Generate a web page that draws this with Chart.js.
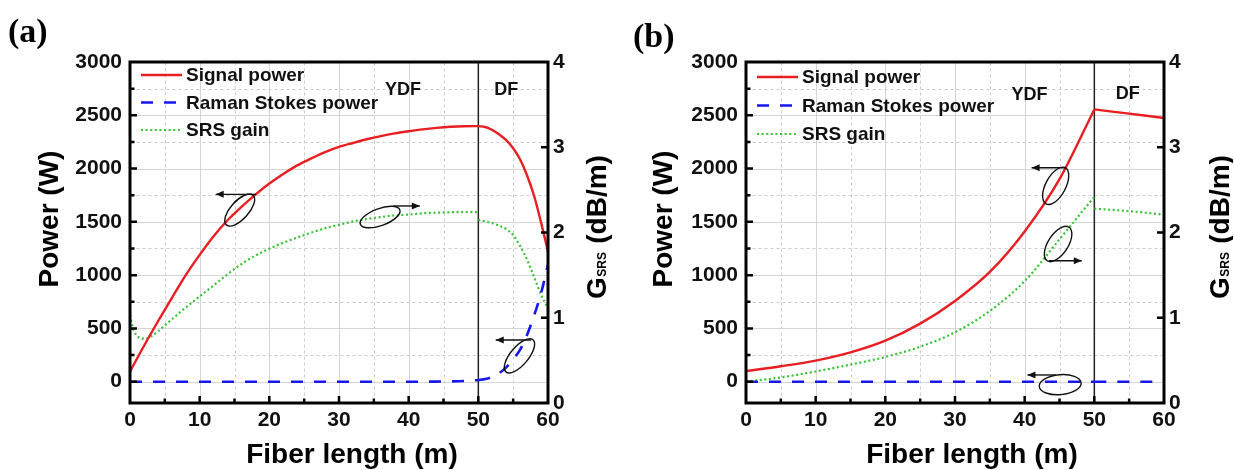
<!DOCTYPE html>
<html>
<head>
<meta charset="utf-8">
<script src="https://cdn.jsdelivr.net/npm/chart.js@4.4.1/dist/chart.umd.min.js"></script>
<style>
  html, body { margin: 0; padding: 0; background: #fff; }
  #wrap { position: relative; width: 1234px; height: 470px; overflow: hidden; }
  canvas { position: absolute; top: 0; }
  #panelA { left: 0; }
  #panelB { left: 616px; }
</style>
</head>
<body>
<div id="wrap">
  <canvas id="panelA" width="617" height="470"></canvas>
  <canvas id="panelB" width="617" height="470"></canvas>
</div>
<script>
// axis labels
const lengthLabels = [0, 10, 20, 30, 40, 50, 60];
const powerLabels = [0, 500, 1000, 1500, 2000, 2500, 3000];
const gainLabels = [0, 1, 2, 3, 4];
const seriesNames = ['Signal power', 'Raman Stokes power', 'SRS gain'];
const junction = 50; // YDF -> DF splice (m)

// ---- panel (a) ----
const ydfLenA = [0,2,4,6,8,10,12,14,16,18,20,22,24,26,28,30,32,34,36,38,40,42,44,46,48,50];
const dfLenA = [50,51,52,53,54,55,56,57,58,59,60];
const signalYdfA = [95,335,565,785,1000,1190,1365,1515,1640,1755,1860,1950,2030,2095,2155,2203,2240,2275,2305,2330,2350,2368,2382,2392,2397,2398];
const signalDfA = [2398,2390,2362,2320,2266,2190,2085,1935,1745,1495,1220];
const ramanYdfA = [0,0,0,0,0,0,0,0,0,0,0,0,0,0,0,0,0,0,0,0,0,0,1,3,7,15];
const ramanDfA = [15,25,45,80,135,210,300,440,620,830,1100];
const gainYdfLenA = [0,0.5,1,1.5,2,2.5,3,4,5,6,8,10,12,14,16,18,20,22,25,28,30,32,35,38,40,42,45,48,50];
const gainYdfA = [1.03,0.86,0.79,0.76,0.755,0.76,0.78,0.84,0.91,0.98,1.12,1.25,1.38,1.51,1.63,1.73,1.81,1.88,1.97,2.05,2.09,2.13,2.17,2.20,2.21,2.225,2.235,2.24,2.24];
const gainDfA = [2.15,2.13,2.11,2.08,2.04,1.97,1.84,1.68,1.48,1.27,1.11];

// ---- panel (b) ----
const ydfLenB = [0,5,10,15,20,25,30,35,40,45,50];
const dfLenB = [50,55,60];
const signalYdfB = [100,145,198,275,385,545,758,1030,1410,1900,2555];
const signalDfB = [2555,2515,2475];
const ramanYdfB = [0,0,0,0,0,0,0,0,0,0,0];
const ramanDfB = [0,0,0];
const gainYdfB = [0.25,0.30,0.37,0.45,0.54,0.66,0.83,1.08,1.43,1.92,2.42];
const gainDfB = [2.28,2.25,2.21];

const FONT = '"Liberation Sans", Arial, Helvetica, sans-serif';
const RED = '#e81e22', BLUE = '#1717ee', GREEN = '#35c435';

// major labels plus a minor tick half way between each pair
function withMinor(labels){
    const out = [];
    labels.forEach((v, i) => {
        if (i) out.push((v + labels[i - 1]) / 2);
        out.push(v);
    });
    return out;
}

const panelA = {
    tag: '(a)', tagX: 8, tagY: 41.5,
    powerTitleX: 50, gainTitleX: 596, fiberTitleX: 352,
    legendTop: 13, legendGap: 27.5,
    ydf: [39.2, 2737], df: [54.0, 2737],
    loops: [
        {cx: 15.75, cp: 1611, rx: 20, ry: 9, rot: -48, ax: [18.1, 12.3], ap: 1758},
        {cx: 35.9, cp: 1545, rx: 21, ry: 8.5, rot: -20, ax: [37.8, 41.6], ap: 1649},
        {cx: 55.9, cp: 243, rx: 21, ry: 9, rot: -50, ax: [57.6, 52.5], ap: 391}
    ]
};
const panelB = {
    tag: '(b)', tagX: 17, tagY: 46.5,
    powerTitleX: 48, gainTitleX: 603, fiberTitleX: 356,
    legendTop: 15, legendGap: 28.5,
    ydf: [40.7, 2690], df: [54.8, 2700],
    loops: [
        {cx: 44.45, cp: 1838, rx: 20.5, ry: 10, rot: -62, ax: [45.9, 41.0], ap: 2008},
        {cx: 44.8, cp: 1292, rx: 20, ry: 10, rot: -57, ax: [43.5, 48.2], ap: 1135},
        {cx: 45.1, cp: -28, rx: 21, ry: 10, rot: -5, ax: [44.5, 40.4], ap: 63}
    ]
};

// YDF part, a gap, then the DF part (keeps the kink at the splice sharp)
function joinSegments(xa, ya, xb, yb){
    const pts = xa.map((v, i) => ({x: v, y: ya[i]}));
    pts.push({x: xb[0], y: null});
    xb.forEach((v, i) => pts.push({x: v, y: yb[i]}));
    return pts;
}

function gridLine(ctx, major, x1, y1, x2, y2){
    ctx.strokeStyle = major ? '#d5d5d5' : '#cdcdcd';
    ctx.setLineDash(major ? [] : [3, 3]);
    ctx.beginPath();
    ctx.moveTo(Math.round(x1) + 0.5, Math.round(y1) + 0.5);
    ctx.lineTo(Math.round(x2) + 0.5, Math.round(y2) + 0.5);
    ctx.stroke();
}

function arrow(ctx, x1, y1, x2, y2){
    ctx.beginPath();
    ctx.moveTo(x1, y1);
    ctx.lineTo(x2, y2);
    ctx.stroke();
    const ang = Math.atan2(y2 - y1, x2 - x1);
    ctx.beginPath();
    ctx.moveTo(x2, y2);
    ctx.lineTo(x2 - 8 * Math.cos(ang) + 3.5 * Math.sin(ang), y2 - 8 * Math.sin(ang) - 3.5 * Math.cos(ang));
    ctx.lineTo(x2 - 8 * Math.cos(ang) - 3.5 * Math.sin(ang), y2 - 8 * Math.sin(ang) + 3.5 * Math.cos(ang));
    ctx.closePath();
    ctx.fill();
}

function decor(panel){
    return {
        id: 'decor',
        beforeDatasetsDraw(chart){
            const {ctx, chartArea: a} = chart;
            const x = chart.scales.x, y = chart.scales.y;
            ctx.save();
            ctx.lineWidth = 1;
            x.ticks.forEach(t => {
                if (t.value <= x.min || t.value >= x.max) return;
                const px = x.getPixelForValue(t.value);
                gridLine(ctx, lengthLabels.includes(t.value), px, a.top, px, a.bottom);
            });
            y.ticks.forEach(t => {
                if (t.value <= y.min || t.value >= y.max) return;
                const py = y.getPixelForValue(t.value);
                gridLine(ctx, powerLabels.includes(t.value), a.left, py, a.right, py);
            });
            // splice line
            const jx = x.getPixelForValue(junction);
            ctx.setLineDash([]);
            ctx.strokeStyle = '#222';
            ctx.lineWidth = 1.5;
            ctx.beginPath();
            ctx.moveTo(jx, a.top);
            ctx.lineTo(jx, a.bottom);
            ctx.stroke();
            ctx.restore();
        },
        afterDatasetsDraw(chart){
            const {ctx, chartArea: a} = chart;
            const x = chart.scales.x, y = chart.scales.y, y2 = chart.scales.y2;
            ctx.save();
            ctx.fillStyle = '#111';
            ctx.strokeStyle = '#111';

            // loops with arrows pointing to the axis
            ctx.lineWidth = 1.4;
            panel.loops.forEach(l => {
                ctx.beginPath();
                ctx.ellipse(x.getPixelForValue(l.cx), y.getPixelForValue(l.cp), l.rx, l.ry, l.rot * Math.PI / 180, 0, Math.PI * 2);
                ctx.stroke();
                const py = y.getPixelForValue(l.ap);
                arrow(ctx, x.getPixelForValue(l.ax[0]), py, x.getPixelForValue(l.ax[1]), py);
            });

            // fiber section names
            ctx.font = 'bold 18px ' + FONT;
            ctx.textAlign = 'center';
            ctx.textBaseline = 'middle';
            ctx.fillText('YDF', x.getPixelForValue(panel.ydf[0]), y.getPixelForValue(panel.ydf[1]));
            ctx.fillText('DF', x.getPixelForValue(panel.df[0]), y.getPixelForValue(panel.df[1]));

            // legend
            ctx.textAlign = 'left';
            ctx.font = 'bold 19px ' + FONT;
            chart.data.datasets.forEach((ds, i) => {
                const ly = a.top + panel.legendTop + i * panel.legendGap;
                ctx.save();
                ctx.strokeStyle = ds.borderColor;
                ctx.lineWidth = ds.borderWidth;
                ctx.setLineDash(ds.borderDash || []);
                ctx.beginPath();
                ctx.moveTo(a.left + 11, ly);
                ctx.lineTo(a.left + 52, ly);
                ctx.stroke();
                ctx.restore();
                ctx.fillText(ds.label, a.left + 56, ly + 1);
            });

            // frame
            ctx.setLineDash([]);
            ctx.lineWidth = 3;
            ctx.strokeStyle = '#000';
            ctx.strokeRect(a.left, a.top, a.right - a.left, a.bottom - a.top);

            // inward tick marks
            ctx.lineWidth = 2.5;
            ctx.beginPath();
            y.ticks.forEach(t => {
                if (t.value <= y.min || t.value >= y.max) return;
                const py = y.getPixelForValue(t.value);
                ctx.moveTo(a.left, py);
                ctx.lineTo(a.left + (powerLabels.includes(t.value) ? 7 : 4.5), py);
            });
            x.ticks.forEach(t => {
                if (t.value <= x.min || t.value >= x.max) return;
                const px = x.getPixelForValue(t.value);
                ctx.moveTo(px, a.bottom);
                ctx.lineTo(px, a.bottom - (lengthLabels.includes(t.value) ? 7 : 4.5));
            });
            y2.ticks.forEach(t => {
                if (t.value <= y2.min || t.value >= y2.max) return;
                const py = y2.getPixelForValue(t.value);
                ctx.moveTo(a.right, py);
                ctx.lineTo(a.right - 7, py);
            });
            ctx.stroke();

            // panel tag
            ctx.fillStyle = '#000';
            ctx.textBaseline = 'alphabetic';
            ctx.textAlign = 'left';
            ctx.font = 'bold 34px "Liberation Serif", "Times New Roman", serif';
            ctx.fillText(panel.tag, panel.tagX, panel.tagY);

            // axis titles
            ctx.font = 'bold 28px ' + FONT;
            ctx.textAlign = 'center';
            ctx.textBaseline = 'middle';
            ctx.fillText('Fiber length (m)', panel.fiberTitleX, 455);

            ctx.save();
            ctx.translate(panel.powerTitleX, 219);
            ctx.rotate(-Math.PI / 2);
            ctx.fillText('Power (W)', 0, 0);
            ctx.restore();

            ctx.save();
            ctx.translate(panel.gainTitleX, 227);
            ctx.rotate(-Math.PI / 2);
            ctx.textAlign = 'left';
            ctx.textBaseline = 'alphabetic';
            ctx.font = 'bold 28px ' + FONT;
            const wG = ctx.measureText('G').width;
            const wU = ctx.measureText(' (dB/m)').width;
            ctx.font = 'bold 12px ' + FONT;
            const wS = ctx.measureText('SRS').width + 1;
            let cx = -(wG + wS + wU) / 2;
            ctx.font = 'bold 28px ' + FONT;
            ctx.fillText('G', cx, 10);
            cx += wG;
            ctx.font = 'bold 12px ' + FONT;
            ctx.fillText('SRS', cx + 0.5, 10);
            cx += wS;
            ctx.font = 'bold 28px ' + FONT;
            ctx.fillText(' (dB/m)', cx, 10);
            ctx.restore();

            ctx.restore();
        }
    };
}

function buildChart(canvas, panel, series){
    const tickFont = {family: FONT, size: 21, weight: 'bold'};
    const axisBase = {
        grid: {display: false, drawTicks: false},
        border: {display: false}
    };
    return new Chart(canvas, {
        type: 'line',
        data: {
            datasets: [
                {label: seriesNames[0], data: series[0], borderColor: RED, borderWidth: 2.4, yAxisID: 'y'},
                {label: seriesNames[1], data: series[1], borderColor: BLUE, borderWidth: 2.6, borderDash: [12, 11], yAxisID: 'y'},
                {label: seriesNames[2], data: series[2], borderColor: GREEN, borderWidth: 2.2, borderDash: [2, 2.6], yAxisID: 'y2'}
            ]
        },
        options: {
            responsive: false,
            animation: false,
            devicePixelRatio: 1,
            layout: {padding: {top: 62, left: 0, right: 0, bottom: 0}},
            elements: {
                point: {radius: 0},
                line: {cubicInterpolationMode: 'monotone', fill: false}
            },
            plugins: {legend: {display: false}, tooltip: {enabled: false}},
            scales: {
                x: Object.assign({}, axisBase, {
                    type: 'linear', min: 0, max: 60,
                    ticks: {autoSkip: false, maxRotation: 0, padding: 5, font: tickFont, color: '#111',
                        callback: v => lengthLabels.includes(v) ? v : ''},
                    afterBuildTicks: s => { s.ticks = withMinor(lengthLabels).map(v => ({value: v})); },
                    afterFit: s => { s.height = 67; }
                }),
                y: Object.assign({}, axisBase, {
                    type: 'linear', position: 'left', min: -200, max: 3000,
                    ticks: {autoSkip: false, padding: 8, font: tickFont, color: '#111',
                        callback: v => powerLabels.includes(v) ? v : ''},
                    afterBuildTicks: s => { s.ticks = withMinor(powerLabels).map(v => ({value: v})); },
                    afterFit: s => { s.width = 130; }
                }),
                y2: Object.assign({}, axisBase, {
                    type: 'linear', position: 'right', min: 0, max: 4,
                    ticks: {autoSkip: false, padding: 5, font: tickFont, color: '#111',
                        callback: v => gainLabels.includes(v) ? v : ''},
                    afterBuildTicks: s => { s.ticks = gainLabels.map(v => ({value: v})); },
                    afterFit: s => { s.width = 69; }
                })
            }
        },
        plugins: [decor(panel)]
    });
}

buildChart(document.getElementById('panelA'), panelA, [
    joinSegments(ydfLenA, signalYdfA, dfLenA, signalDfA),
    joinSegments(ydfLenA, ramanYdfA, dfLenA, ramanDfA),
    joinSegments(gainYdfLenA, gainYdfA, dfLenA, gainDfA)
]);

buildChart(document.getElementById('panelB'), panelB, [
    joinSegments(ydfLenB, signalYdfB, dfLenB, signalDfB),
    joinSegments(ydfLenB, ramanYdfB, dfLenB, ramanDfB),
    joinSegments(ydfLenB, gainYdfB, dfLenB, gainDfB)
]);
</script>
</body>
</html>
